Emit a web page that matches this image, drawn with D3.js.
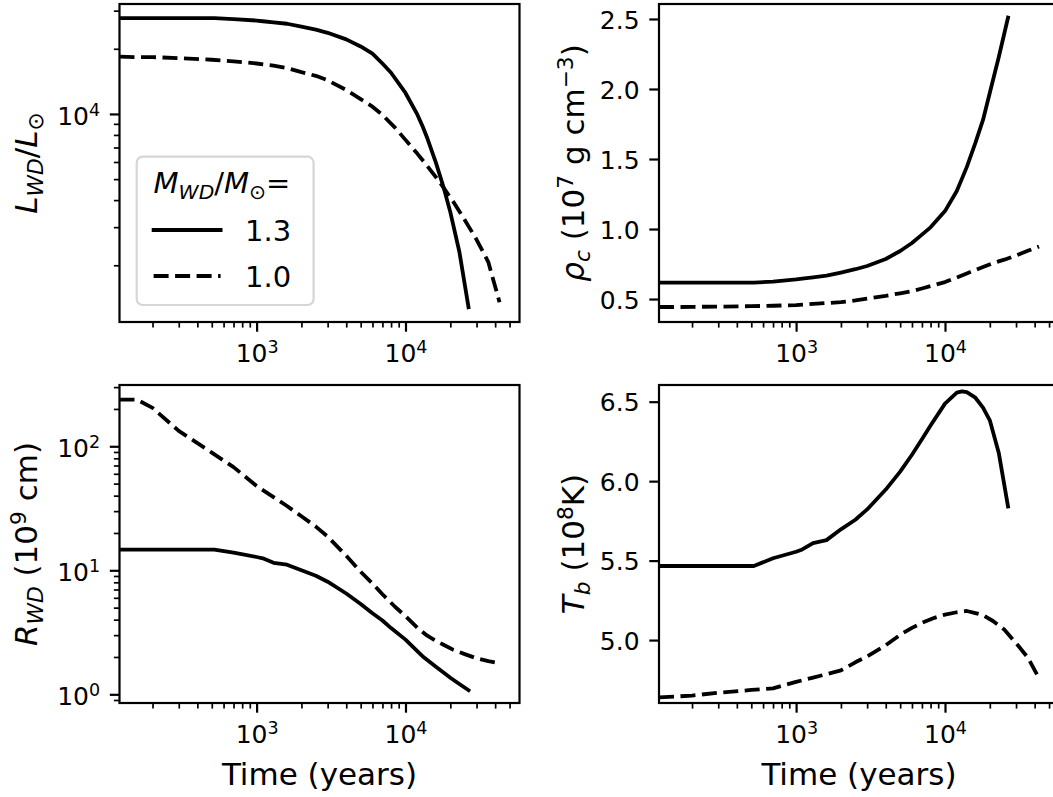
<!DOCTYPE html>
<html>
<head>
<meta charset="utf-8">
<script src="https://cdn.jsdelivr.net/npm/d3@7"></script>
<style>
  body { margin: 0; background: #fff; }
  svg { display: block; }
  text { font-family: "DejaVu Sans", sans-serif; fill: #000; white-space: pre; }
</style>
</head>
<body>
<svg id="fig" width="1053" height="797"></svg>
<script>
// ---- Model with M_WD = 1.3 M_sun ----
const time13 = [120, 520, 700, 1000, 1100, 1300, 1600, 2000, 2500, 3000, 4000, 5000, 6000, 7000, 8000,
                10000, 12000, 13000, 14000, 16000, 18000, 20000, 23000, 26500];
const lum13  = [27700, 27700, 27400, 27000, 26800, 26500, 26100, 25300, 24500, 23700, 22100, 20500, 19000, 17100, 15500,
                12500, 9950, 8790, 7740, 5960, 4600, 3520, 2310, 1280];
const rhoc13 = [0.617, 0.617, 0.625, 0.640, 0.645, 0.655, 0.667, 0.689, 0.713, 0.736, 0.786, 0.843, 0.900, 0.960, 1.012,
                1.128, 1.271, 1.360, 1.442, 1.615, 1.779, 1.973, 2.23, 2.51];
const rad13  = [14.7, 14.7, 13.9, 12.8, 12.5, 11.5, 11.1, 10.0, 9.04, 8.09, 6.50, 5.35, 4.50, 3.94, 3.42,
                2.76, 2.23, 2.03, 1.89, 1.67, 1.50, 1.36, 1.21, 1.08];
const tb13   = [5.466, 5.466, 5.515, 5.556, 5.570, 5.610, 5.629, 5.697, 5.757, 5.822, 5.947, 6.060, 6.166, 6.264, 6.350,
                6.488, 6.557, 6.565, 6.560, 6.525, 6.463, 6.383, 6.175, 5.84];

// ---- Model with M_WD = 1.0 M_sun ----
const time10 = [120, 157, 200, 300, 500, 700, 1000, 1300, 1600, 2000, 2500, 3000, 4000, 5000, 6000, 7000, 8500,
                10000, 12000, 14000, 16000, 18000, 21000, 25000, 30000, 36000, 42800];
const lum10  = [18400, 18300, 18300, 18100, 17800, 17500, 17100, 16700, 16300, 15600, 15000, 14300, 12900, 11700, 10800, 9900, 8650,
                7590, 6560, 5750, 5110, 4570, 3920, 3240, 2630, 2070, 1350];
const rhoc10 = [0.443, 0.443, 0.444, 0.446, 0.449, 0.452, 0.457, 0.465, 0.471, 0.478, 0.490, 0.503, 0.523, 0.541, 0.556, 0.575, 0.600,
                0.621, 0.654, 0.683, 0.707, 0.729, 0.756, 0.781, 0.811, 0.845, 0.875];
const rad10  = [238, 238, 204, 133, 88.9, 67.9, 47.9, 38.9, 33.0, 27.3, 22.5, 18.7, 13.1, 9.73, 7.83, 6.41, 5.08,
                4.27, 3.45, 2.97, 2.70, 2.51, 2.28, 2.11, 1.95, 1.85, 1.78];
const tb10   = [4.639, 4.645, 4.651, 4.668, 4.686, 4.696, 4.737, 4.764, 4.785, 4.809, 4.860, 4.897, 4.968, 5.033, 5.077, 5.108, 5.140,
                5.160, 5.175, 5.183, 5.170, 5.157, 5.12, 5.066, 4.981, 4.89, 4.76];

const massLabels = ["1.3", "1.0"];

// ---- axis limits and ticks ----
const xLimits    = [120, 58300];
const lumLimits  = [1094, 32200];
const rhocLimits = [0.336, 2.607];
const radLimits  = [0.851, 312];
const tbLimits   = [4.604, 6.605];

const xMajorTicks    = [1e3, 1e4];
const lumMajorTicks  = [1e4];
const radMajorTicks  = [1e0, 1e1, 1e2];
const rhocTicks      = [0.5, 1.0, 1.5, 2.0, 2.5];
const tbTicks        = [5.0, 5.5, 6.0, 6.5];

// ---- styling ----
const TICK_FONT = 25, LABEL_FONT = 31, LEGEND_FONT = 29;
const MAJOR_LEN = 9.7, MINOR_LEN = 5.6, PAD = 9.7;
const LINE_W = 3.8, DASH = "15 6.5";

const svg = d3.select("#fig");

// write mathtext-like pieces (italic, sub-/superscripts) into a text element
function mathText(sel, parts, size) {
  let cur = 0;
  parts.forEach(p => {
    const target = p.sub ? 0.2 * size : p.sup ? -0.36 * size : 0;
    const ts = sel.append("tspan").text(p.t);
    if (target - cur !== 0) ts.attr("dy", target - cur);
    if (p.sub || p.sup) ts.attr("font-size", 0.7 * size);
    if (p.i) ts.attr("font-style", "italic");
    cur = target;
  });
}
const pow10Parts = v => [{ t: "10" }, { t: String(Math.round(Math.log10(v))), sup: true }];
const decParts = v => [{ t: v.toFixed(1) }];

function minorLogTicks(domain) {
  const out = [];
  const k0 = Math.floor(Math.log10(domain[0])), k1 = Math.ceil(Math.log10(domain[1]));
  for (let k = k0; k <= k1; k++)
    for (let m = 2; m <= 9; m++) {
      const v = m * Math.pow(10, k);
      if (v >= domain[0] && v <= domain[1]) out.push(v);
    }
  return out;
}

const panels = [
  { x0: 119.5, y0: 4, w: 400, h: 318, y: d3.scaleLog().domain(lumLimits), yMajor: lumMajorTicks, yFmt: pow10Parts, logY: true,
    s13: lum13, s10: lum10, showX: false, labelX: 37,
    ylabel: [{ t: "L", i: 1 }, { t: "WD", i: 1, sub: 1 }, { t: "/" }, { t: "L", i: 1 }, { t: "⊙", sub: 1 }] },
  { x0: 659, y0: 4, w: 400, h: 318, y: d3.scaleLinear().domain(rhocLimits), yMajor: rhocTicks, yFmt: decParts, logY: false,
    s13: rhoc13, s10: rhoc10, showX: false, labelX: 584,
    ylabel: [{ t: "ρ", i: 1 }, { t: "c", i: 1, sub: 1 }, { t: " (10" }, { t: "7", sup: 1 }, { t: " g cm" }, { t: "−3", sup: 1 }, { t: ")" }] },
  { x0: 119.5, y0: 385, w: 400, h: 318, y: d3.scaleLog().domain(radLimits), yMajor: radMajorTicks, yFmt: pow10Parts, logY: true,
    s13: rad13, s10: rad10, showX: true, labelX: 37,
    ylabel: [{ t: "R", i: 1 }, { t: "WD", i: 1, sub: 1 }, { t: " (10" }, { t: "9", sup: 1 }, { t: " cm)" }] },
  { x0: 659, y0: 385, w: 400, h: 318, y: d3.scaleLinear().domain(tbLimits), yMajor: tbTicks, yFmt: decParts, logY: false,
    s13: tb13, s10: tb10, showX: true, labelX: 584,
    ylabel: [{ t: "T", i: 1 }, { t: "b", i: 1, sub: 1 }, { t: " (10" }, { t: "8", sup: 1 }, { t: "K)" }] }
];

panels.forEach((p, idx) => {
  const x = d3.scaleLog().domain(xLimits).range([p.x0, p.x0 + p.w]);
  p.y.range([p.y0 + p.h, p.y0]);
  const g = svg.append("g");

  // clip region for the curves
  const clipId = "clip" + idx;
  svg.append("clipPath").attr("id", clipId)
    .append("rect").attr("x", p.x0).attr("y", p.y0).attr("width", p.w).attr("height", p.h);

  const line = (ts, vs) => d3.line().x((d, i) => x(ts[i])).y(d => p.y(d))(vs);
  const curves = g.append("g").attr("clip-path", `url(#${clipId})`);
  curves.append("path").attr("d", line(time13, p.s13))
    .attr("fill", "none").attr("stroke", "#000").attr("stroke-width", LINE_W)
    .attr("stroke-linejoin", "round").attr("stroke-linecap", "square");
  curves.append("path").attr("d", line(time10, p.s10))
    .attr("fill", "none").attr("stroke", "#000").attr("stroke-width", LINE_W)
    .attr("stroke-dasharray", DASH).attr("stroke-linejoin", "round").attr("stroke-linecap", "butt");

  // x axis: major + minor ticks
  const xb = p.y0 + p.h;
  const gxMin = g.append("g").attr("transform", `translate(0,${xb})`)
    .call(d3.axisBottom(x).tickValues(minorLogTicks(xLimits)).tickSize(MINOR_LEN).tickFormat(""));
  gxMin.selectAll(".tick line").attr("stroke-width", 1.7);
  const gx = g.append("g").attr("transform", `translate(0,${xb})`)
    .call(d3.axisBottom(x).tickValues(xMajorTicks).tickSize(MAJOR_LEN).tickPadding(PAD));
  gx.selectAll(".tick line").attr("stroke-width", 2.2);
  gx.selectAll(".tick text").each(function (d) {
    const t = d3.select(this).text("").attr("y", 39.7).attr("dy", null)
      .attr("font-size", TICK_FONT).attr("font-family", "DejaVu Sans").attr("text-anchor", "middle");
    mathText(t, pow10Parts(d), TICK_FONT);
  });

  // y axis
  const gy = g.append("g").attr("transform", `translate(${p.x0},0)`);
  if (p.logY) {
    const gyMin = g.append("g").attr("transform", `translate(${p.x0},0)`)
      .call(d3.axisLeft(p.y).tickValues(minorLogTicks(p.y.domain())).tickSize(MINOR_LEN).tickFormat(""));
    gyMin.selectAll(".tick line").attr("stroke-width", 1.7);
  }
  gy.call(d3.axisLeft(p.y).tickValues(p.yMajor).tickSize(MAJOR_LEN).tickPadding(PAD));
  gy.selectAll(".tick line").attr("stroke-width", 2.2);
  gy.selectAll(".tick text").each(function (d) {
    const t = d3.select(this).text("").attr("x", -(MAJOR_LEN + PAD)).attr("dy", null)
      .attr("y", p.logY ? 10.5 : 9.3)
      .attr("font-size", TICK_FONT).attr("font-family", "DejaVu Sans").attr("text-anchor", "end");
    mathText(t, p.yFmt(d), TICK_FONT);
  });
  g.selectAll(".domain").remove();

  // frame
  g.append("rect").attr("x", p.x0).attr("y", p.y0).attr("width", p.w).attr("height", p.h)
    .attr("fill", "none").attr("stroke", "#000").attr("stroke-width", 2.2);

  // y label
  const yl = g.append("text").attr("font-size", LABEL_FONT).attr("text-anchor", "middle")
    .attr("transform", `translate(${p.labelX},${p.y0 + p.h / 2}) rotate(-90)`);
  mathText(yl, p.ylabel, LABEL_FONT);

  // x label
  if (p.showX) {
    g.append("text").attr("font-size", LABEL_FONT).attr("text-anchor", "middle")
      .attr("x", p.x0 + p.w / 2).attr("y", 785).text("Time (years)");
  }
});

// legend in the luminosity panel
const lg = svg.append("g");
lg.append("rect").attr("x", 136.7).attr("y", 156.7).attr("width", 176.9).attr("height", 148.3)
  .attr("rx", 6).attr("fill", "#fff").attr("fill-opacity", 0.8)
  .attr("stroke", "#d6d6d6").attr("stroke-width", 2.2);
const title = lg.append("text").attr("font-size", LEGEND_FONT).attr("text-anchor", "middle")
  .attr("x", 222).attr("y", 193);
mathText(title, [{ t: "M", i: 1 }, { t: "WD", i: 1, sub: 1 }, { t: "/" }, { t: "M", i: 1 }, { t: "⊙", sub: 1 }, { t: "=" }], LEGEND_FONT);

const legendRows = [
  { label: massLabels[0], dash: null, y: 230 },
  { label: massLabels[1], dash: DASH, y: 276 }
];
legendRows.forEach(r => {
  const h = lg.append("line").attr("x1", 153.6).attr("x2", 220.6).attr("y1", r.y).attr("y2", r.y)
    .attr("stroke", "#000").attr("stroke-width", LINE_W)
    .attr("stroke-linecap", r.dash ? "butt" : "square");
  if (r.dash) h.attr("stroke-dasharray", r.dash);
  lg.append("text").attr("font-size", LEGEND_FONT).attr("x", 245).attr("y", r.y + 10.5).text(r.label);
});
</script>
</body>
</html>
